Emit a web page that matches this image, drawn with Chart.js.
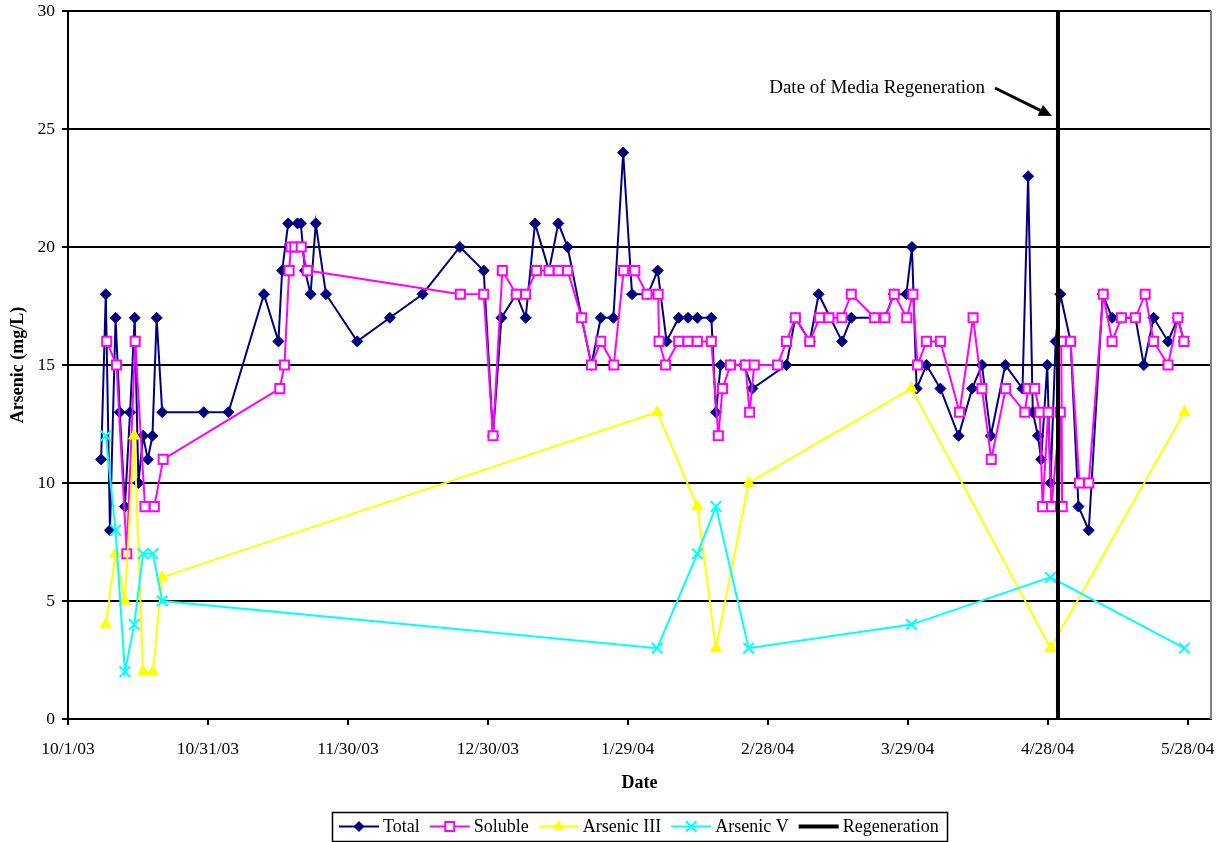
<!DOCTYPE html>
<html><head><meta charset="utf-8">
<script src="https://cdn.jsdelivr.net/npm/chart.js@4.4.1/dist/chart.umd.min.js"></script>
<style>html,body{margin:0;padding:0;background:#fff;}canvas{display:block}</style>
</head><body>
<canvas id="c" width="1226" height="842"></canvas>
<script>
// x values are days since 10/1/03
const startDate = Date.UTC(2003, 9, 1);
const xTickStep = 30;
const xMaxDay = 245;
const yTicks = [0, 5, 10, 15, 20, 25, 30];

const totalDay = [7.1,8.1,9.0,10.2,11.1,12.2,13.3,14.3,15.1,16.1,17.1,18.1,19.0,20.2,29.1,34.4,42.0,45.1,45.9,47.2,49.2,49.9,50.8,52.0,53.1,55.3,62.0,69.0,76.0,84.0,89.1,91.1,92.9,96.1,98.1,100.1,103.1,105.1,107.1,110.1,112.2,114.2,116.9,119.0,120.9,124.3,126.4,128.3,130.9,132.9,134.9,137.9,138.9,139.9,141.9,144.9,146.7,154.0,155.9,159.0,160.9,165.9,167.9,172.9,175.1,177.0,179.7,180.9,181.9,184.0,187.0,190.9,193.8,195.9,197.8,200.9,204.6,205.8,206.8,207.9,208.6,209.9,210.6,211.7,212.7,214.9,216.6,218.8,221.8,223.8,225.8,228.8,230.6,232.7,235.8,237.9,239.2];
const totalVal = [11,18,8,17,13,9,13,17,10,12,11,12,17,13,13,13,18,16,19,21,21,21,19,18,21,18,16,17,18,20,19,12,17,18,17,21,19,21,20,17,15,17,17,24,18,18,19,16,17,17,17,17,13,15,15,15,14,15,17,16,18,16,17,17,17,18,18,20,14,15,14,12,14,15,12,15,14,23,13,12,11,15,10,16,18,16,9,8,18,17,17,17,15,17,16,17,16];

const solubleDay = [8.3,10.4,12.6,14.4,16.5,18.5,20.4,45.4,46.4,47.4,47.8,48.6,50.0,51.3,84.1,89.1,91.1,93.1,96.1,98.1,100.4,103.1,105.1,107.1,110.1,112.2,114.2,117.0,119.1,121.5,124.1,126.5,126.7,128.1,130.9,132.9,134.9,137.9,139.4,140.3,142.0,145.2,146.1,147.1,152.1,154.0,155.9,159.0,161.1,163.1,165.9,167.9,172.9,175.1,177.1,179.8,181.1,182.1,184.0,187.0,191.1,194.0,195.9,197.9,201.0,205.1,205.8,207.2,208.3,208.9,210.1,210.8,212.7,213.1,212.9,214.9,216.8,218.8,221.9,223.8,225.8,228.8,230.9,232.7,235.8,237.9,239.2];
const solubleVal = [16,15,7,16,9,9,11,14,15,19,20,20,20,19,18,18,12,19,18,18,19,19,19,19,17,15,16,15,19,19,18,18,16,15,16,16,16,16,12,14,15,15,13,15,15,16,17,16,17,17,17,18,17,17,18,17,18,15,16,16,13,17,14,11,14,13,14,14,13,9,13,9,13,9,16,16,10,10,18,16,17,17,18,16,15,17,16];

const speciationDay = [8.1,10.2,12.2,14.2,16.1,18.2,20.2,126.3,134.9,138.9,145.9,180.8,210.6,239.3];
const arsenicIIIVal = [4,7,5,12,2,2,6,13,9,3,10,14,3,13];
const arsenicVVal   = [12,8,2,4,7,7,5,3,7,9,3,4,6,3];

const regenerationDay = 212.2;   // 4/30/04
const regenerationRange = [0, 30];

const seriesNames = ['Total', 'Soluble', 'Arsenic III', 'Arsenic V', 'Regeneration'];
const annotationText = 'Date of Media Regeneration';

const FONT = '"Liberation Serif", "Times New Roman", serif';
const NAVY = '#000080', MAG = '#FF00FF', YEL = '#FFFF00', CYA = '#00FFFF';

function dayLabel(v) {
  const d = new Date(startDate + v * 86400000);
  return (d.getUTCMonth() + 1) + '/' + d.getUTCDate() + '/' + String(d.getUTCFullYear()).slice(2);
}
const pts = (xs, ys) => xs.map((x, i) => ({x, y: ys[i]}));

function drawMarker(ctx, kind, x, y) {
  ctx.save();
  if (kind === 0) {
    const r = 5.5; ctx.fillStyle = NAVY; ctx.beginPath();
    ctx.moveTo(x - r, y); ctx.lineTo(x, y - r); ctx.lineTo(x + r, y); ctx.lineTo(x, y + r); ctx.closePath(); ctx.fill();
  } else if (kind === 1) {
    ctx.fillStyle = '#fff'; ctx.strokeStyle = MAG; ctx.lineWidth = 2;
    ctx.fillRect(x - 4.5, y - 4.5, 9, 9); ctx.strokeRect(x - 4.5, y - 4.5, 9, 9);
  } else if (kind === 2) {
    const r = 6.5; ctx.fillStyle = YEL; ctx.beginPath();
    for (let k = 0; k < 3; k++) { const a = k * 2 * Math.PI / 3; ctx.lineTo(x + Math.sin(a) * r, y - Math.cos(a) * r); }
    ctx.closePath(); ctx.fill();
  } else if (kind === 3) {
    const s = 5.3; ctx.strokeStyle = CYA; ctx.lineWidth = 2; ctx.beginPath();
    ctx.moveTo(x - s, y - s); ctx.lineTo(x + s, y + s); ctx.moveTo(x + s, y - s); ctx.lineTo(x - s, y + s); ctx.stroke();
  }
  ctx.restore();
}

const extras = {
  id: 'extras',
  afterDraw(chart) {
    const {ctx, chartArea: ca, scales} = chart;
    ctx.save();
    // right border of plot area
    ctx.strokeStyle = '#808080'; ctx.lineWidth = 2;
    ctx.beginPath(); ctx.moveTo(ca.right, ca.top); ctx.lineTo(ca.right, ca.bottom); ctx.stroke();

    // annotation with arrow
    const rx = scales.x.getPixelForValue(regenerationDay);
    const tipX = rx - 6, tipY = scales.y.getPixelForValue(25.55);
    const sx = tipX - 57, sy = tipY - 28;
    ctx.strokeStyle = '#000'; ctx.fillStyle = '#000'; ctx.lineWidth = 3;
    const ang = Math.atan2(tipY - sy, tipX - sx);
    const hl = 13, hw = 6;
    const bx = tipX - Math.cos(ang) * hl, by = tipY - Math.sin(ang) * hl;
    ctx.beginPath(); ctx.moveTo(sx, sy); ctx.lineTo(bx, by); ctx.stroke();
    ctx.beginPath(); ctx.moveTo(tipX, tipY);
    ctx.lineTo(bx + Math.sin(ang) * hw, by - Math.cos(ang) * hw);
    ctx.lineTo(bx - Math.sin(ang) * hw, by + Math.cos(ang) * hw);
    ctx.closePath(); ctx.fill();
    ctx.font = '19px ' + FONT; ctx.textAlign = 'right'; ctx.textBaseline = 'middle';
    ctx.fillText(annotationText, sx - 10, sy);

    // legend
    ctx.font = '18px ' + FONT; ctx.textAlign = 'left'; ctx.textBaseline = 'middle';
    const lineW = 40, gapText = 4, gapItem = 10, padL = 7, padR = 8;
    const widths = seriesNames.map(t => ctx.measureText(t).width);
    let total = padL + padR;
    widths.forEach((w, i) => { total += lineW + gapText + w + (i ? gapItem : 0); });
    const cx = (ca.left + ca.right) / 2;
    const top = chart.height - 30, h = 29, cy = top + h / 2;
    let x = Math.round(cx - total / 2);
    ctx.strokeStyle = '#000'; ctx.lineWidth = 1.5;
    ctx.strokeRect(x + 0.5, top + 0.5, Math.round(total), h);
    x += padL;
    const colors = [NAVY, MAG, YEL, CYA, '#000'];
    seriesNames.forEach((t, i) => {
      ctx.strokeStyle = colors[i]; ctx.lineWidth = i === 4 ? 4 : 2;
      ctx.beginPath(); ctx.moveTo(x, cy); ctx.lineTo(x + lineW, cy); ctx.stroke();
      drawMarker(ctx, i, x + lineW / 2, cy);
      ctx.fillStyle = '#000';
      ctx.fillText(t, x + lineW + gapText, cy + 1);
      x += lineW + gapText + widths[i] + gapItem;
    });
    ctx.restore();
  }
};

Chart.defaults.font.family = FONT;
Chart.defaults.font.size = 17;
Chart.defaults.color = '#000';

new Chart(document.getElementById('c'), {
  type: 'scatter',
  data: {
    datasets: [
      { label: seriesNames[0], data: pts(totalDay, totalVal), showLine: true, borderColor: NAVY, backgroundColor: NAVY,
        borderWidth: 2, pointStyle: 'rectRot', pointRadius: 5.5, pointBorderWidth: 1, order: 5 },
      { label: seriesNames[1], data: pts(solubleDay, solubleVal), showLine: true, borderColor: MAG, backgroundColor: '#fff',
        pointBorderColor: MAG, pointBackgroundColor: '#fff', borderWidth: 2, pointStyle: 'rect', pointRadius: 6.4, pointBorderWidth: 2, order: 4 },
      { label: seriesNames[2], data: pts(speciationDay, arsenicIIIVal), showLine: true, borderColor: YEL, backgroundColor: YEL,
        borderWidth: 2, pointStyle: 'triangle', pointRadius: 6.5, pointBorderWidth: 1, order: 3 },
      { label: seriesNames[3], data: pts(speciationDay, arsenicVVal), showLine: true, borderColor: CYA, backgroundColor: CYA,
        borderWidth: 2, pointStyle: 'crossRot', pointRadius: 7.5, pointBorderWidth: 2, order: 2 },
      { label: seriesNames[4], data: regenerationRange.map(v => ({x: regenerationDay, y: v})), showLine: true,
        borderColor: '#000', borderWidth: 4, pointRadius: 0, order: 1 }
    ]
  },
  options: {
    responsive: false, animation: false, devicePixelRatio: 1, events: [],
    layout: { padding: { left: 0, top: 11, right: 15, bottom: 43 } },
    plugins: { legend: { display: false }, tooltip: { enabled: false } },
    elements: { line: { tension: 0 } },
    scales: {
      x: {
        type: 'linear', min: 0, max: xMaxDay,
        ticks: { stepSize: xTickStep, includeBounds: false, autoSkip: false, maxRotation: 0, padding: 14,
                 callback: v => dayLabel(v), font: { size: 17.5 } },
        grid: { drawOnChartArea: false, drawTicks: true, tickLength: 6, color: '#000', lineWidth: 2 },
        border: { display: true, color: '#000', width: 2 },
        title: { display: true, text: 'Date', font: { size: 18, weight: 'bold' }, padding: { top: 0, bottom: 5 } },
        afterFit: s => { s.height = 80; s.paddingLeft = 0; s.paddingRight = 0; }
      },
      y: {
        min: 0, max: 30,
        afterBuildTicks: s => { s.ticks = yTicks.map(v => ({value: v})); },
        ticks: { padding: 7, font: { size: 17.5 } },
        grid: { color: '#000', lineWidth: 2, tickLength: 6 },
        border: { display: true, color: '#000', width: 2 },
        title: { display: true, text: 'Arsenic (mg/L)', font: { size: 18, weight: 'bold' }, padding: { top: 8, bottom: 0 } },
        afterFit: s => { s.width = 68; s.paddingTop = 0; s.paddingBottom = 0; }
      }
    }
  },
  plugins: [extras]
});
</script>
</body></html>
